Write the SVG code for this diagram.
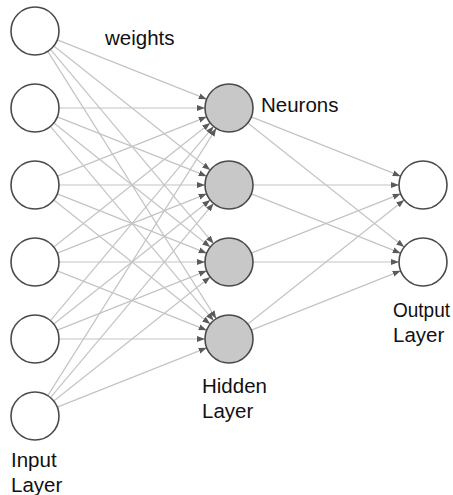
<svg xmlns="http://www.w3.org/2000/svg" width="453" height="495" viewBox="0 0 453 495">
  <style>
    .edge { stroke: #c4c4c4; stroke-width: 1.2; fill: none; marker-end: url(#arrow); }
    .node { stroke: #4a4a4a; stroke-width: 1.6; }
    .plain { fill: #ffffff; }
    .hidden { fill: #c8c8c8; }
    .label { font-family: "Liberation Sans", Arial, sans-serif; font-size: 20.5px; fill: #111111; }
  </style>
  <defs>
    <marker id="arrow" markerUnits="userSpaceOnUse" markerWidth="8" markerHeight="6" refX="8" refY="3" orient="auto">
      <path d="M0,0 L8,3 L0,6 z" fill="#5a5a5a"/>
    </marker>
  </defs>
  <rect width="453" height="495" fill="#ffffff"/>

  <g id="connectors">
    <!-- input layer to hidden layer -->
    <line class="edge" x1="57.31" y1="39.85" x2="206.69" y2="99.15"/>
    <line class="edge" x1="53.80" y1="45.92" x2="210.20" y2="170.08"/>
    <line class="edge" x1="50.43" y1="49.38" x2="213.57" y2="243.62"/>
    <line class="edge" x1="47.79" y1="51.31" x2="216.21" y2="318.69"/>

    <line class="edge" x1="59" y1="108" x2="205" y2="108"/>
    <line class="edge" x1="57.31" y1="116.85" x2="206.69" y2="176.15"/>
    <line class="edge" x1="53.80" y1="122.92" x2="210.20" y2="247.08"/>
    <line class="edge" x1="50.43" y1="126.38" x2="213.57" y2="320.62"/>

    <line class="edge" x1="57.31" y1="176.15" x2="206.69" y2="116.85"/>
    <line class="edge" x1="59" y1="185" x2="205" y2="185"/>
    <line class="edge" x1="57.31" y1="193.85" x2="206.69" y2="253.15"/>
    <line class="edge" x1="53.80" y1="199.92" x2="210.20" y2="324.08"/>

    <line class="edge" x1="53.80" y1="247.08" x2="210.20" y2="122.92"/>
    <line class="edge" x1="57.31" y1="253.15" x2="206.69" y2="193.85"/>
    <line class="edge" x1="59" y1="262" x2="205" y2="262"/>
    <line class="edge" x1="57.31" y1="270.85" x2="206.69" y2="330.15"/>

    <line class="edge" x1="50.43" y1="320.62" x2="213.57" y2="126.38"/>
    <line class="edge" x1="53.80" y1="324.08" x2="210.20" y2="199.92"/>
    <line class="edge" x1="57.31" y1="330.15" x2="206.69" y2="270.85"/>
    <line class="edge" x1="59" y1="339" x2="205" y2="339"/>

    <line class="edge" x1="47.79" y1="395.69" x2="216.21" y2="128.31"/>
    <line class="edge" x1="50.43" y1="397.62" x2="213.57" y2="203.38"/>
    <line class="edge" x1="53.80" y1="401.08" x2="210.20" y2="276.92"/>
    <line class="edge" x1="57.31" y1="407.15" x2="206.69" y2="347.85"/>

    <!-- hidden layer to output layer -->
    <line class="edge" x1="251.31" y1="116.85" x2="400.69" y2="176.15"/>
    <line class="edge" x1="247.80" y1="122.92" x2="404.20" y2="247.08"/>
    <line class="edge" x1="253" y1="185" x2="399" y2="185"/>
    <line class="edge" x1="251.31" y1="193.85" x2="400.69" y2="253.15"/>
    <line class="edge" x1="251.31" y1="253.15" x2="400.69" y2="193.85"/>
    <line class="edge" x1="253" y1="262" x2="399" y2="262"/>
    <line class="edge" x1="247.80" y1="324.08" x2="404.20" y2="199.92"/>
    <line class="edge" x1="251.31" y1="330.15" x2="400.69" y2="270.85"/>
  </g>

  <!-- input layer -->
  <g id="input1"><circle class="node plain" cx="35" cy="31" r="24"/></g>
  <g id="input2"><circle class="node plain" cx="35" cy="108" r="24"/></g>
  <g id="input3"><circle class="node plain" cx="35" cy="185" r="24"/></g>
  <g id="input4"><circle class="node plain" cx="35" cy="262" r="24"/></g>
  <g id="input5"><circle class="node plain" cx="35" cy="339" r="24"/></g>
  <g id="input6"><circle class="node plain" cx="35" cy="416" r="24"/></g>

  <!-- hidden layer -->
  <g id="hidden1"><circle class="node hidden" cx="229" cy="108" r="24"/></g>
  <g id="hidden2"><circle class="node hidden" cx="229" cy="185" r="24"/></g>
  <g id="hidden3"><circle class="node hidden" cx="229" cy="262" r="24"/></g>
  <g id="hidden4"><circle class="node hidden" cx="229" cy="339" r="24"/></g>

  <!-- output layer -->
  <g id="output1"><circle class="node plain" cx="423" cy="185" r="24"/></g>
  <g id="output2"><circle class="node plain" cx="423" cy="262" r="24"/></g>

  <!-- labels -->
  <g id="labels">
    <text class="label" x="105" y="45">weights</text>
    <text class="label" x="261" y="112">Neurons</text>
    <text class="label" x="393" y="317" textLength="57" lengthAdjust="spacingAndGlyphs">Output</text>
    <text class="label" x="393" y="342">Layer</text>
    <text class="label" x="202" y="393">Hidden</text>
    <text class="label" x="202" y="418">Layer</text>
    <text class="label" x="11" y="467">Input</text>
    <text class="label" x="11" y="492">Layer</text>
  </g>
</svg>
